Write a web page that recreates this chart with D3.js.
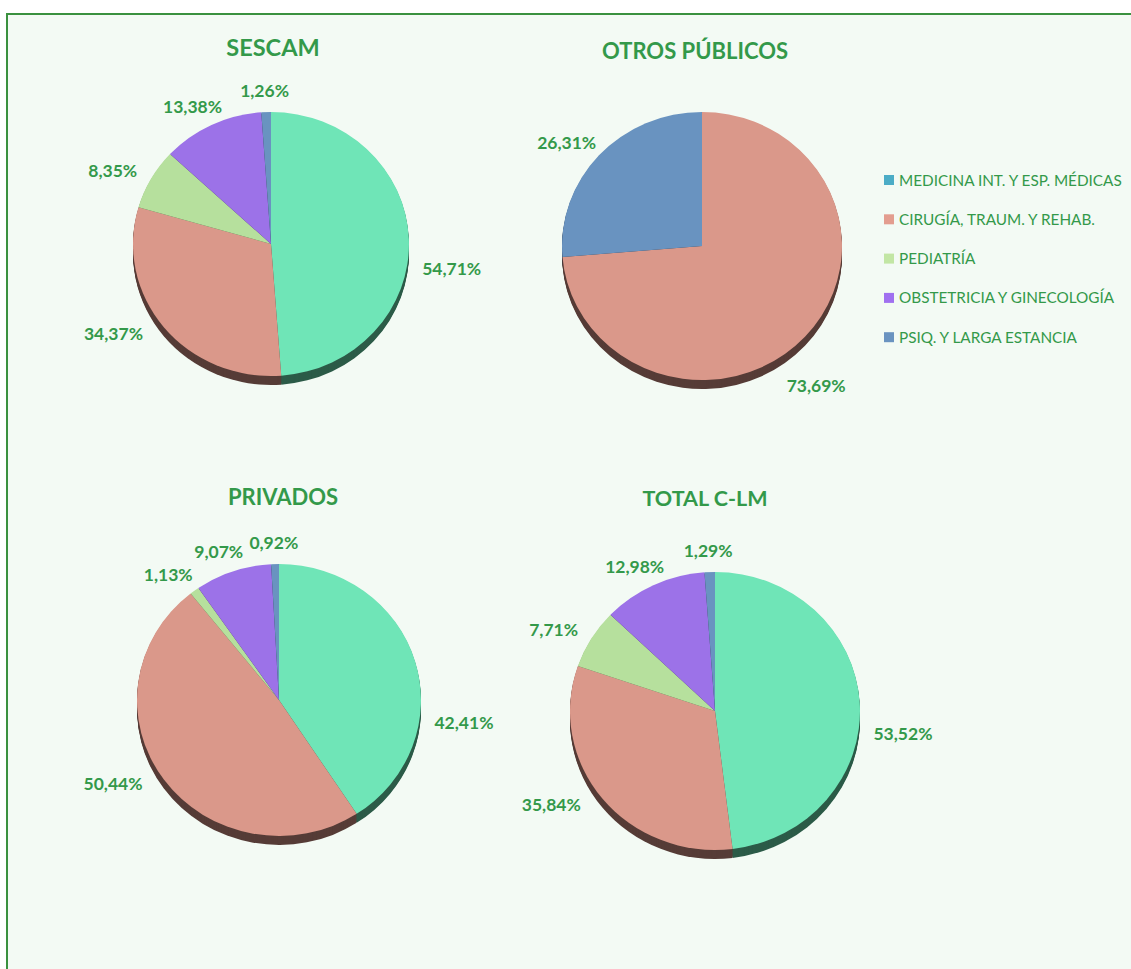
<!DOCTYPE html>
<html>
<head>
<meta charset="utf-8">
<script src="https://cdn.jsdelivr.net/npm/d3@7"></script>
<style>
  html, body { margin: 0; padding: 0; background: #ffffff; }
  svg { display: block; }
</style>
</head>
<body>
<div id="chart"></div>
<script>
// Distribución por servicio - 4 tartas 3D
(function() {
  'use strict';

  var categories = ['MEDICINA INT. Y ESP. MÉDICAS', 'CIRUGÍA, TRAUM. Y REHAB.', 'PEDIATRÍA',
    'OBSTETRICIA Y GINECOLOGÍA', 'PSIQ. Y LARGA ESTANCIA'];
  var titles = ['SESCAM', 'OTROS PÚBLICOS', 'PRIVADOS', 'TOTAL C-LM'];
  var sescam = [54.71, 34.37, 8.35, 13.38, 1.26];
  var otrosPublicos = [0, 73.69, 0, 0, 26.31];
  var privados = [42.41, 50.44, 1.13, 9.07, 0.92];
  var totalClm = [53.52, 35.84, 7.71, 12.98, 1.29];
  var series = [sescam, otrosPublicos, privados, totalClm];

  var sliceColors = ['#6fe5b7', '#da988a', '#b6e09d', '#9c72e8', '#6993c0'];
  var legendColors = ['#4bacc6', '#e39d8f', '#c2e6a4', '#a070f0', '#6a93c0'];
  var green = '#33994a';

  // layout of each pie (centre, radii, depth of the 3D edge, title)
  var layout = [
    { cx: 271, cy: 244, rx: 138, ry: 132, depth: 9, tx: 273, ty: 56, tsize: 23.5 },
    { cx: 702, cy: 246, rx: 140, ry: 134, depth: 9, tx: 695, ty: 59, tsize: 22 },
    { cx: 279, cy: 700, rx: 142, ry: 136, depth: 9, tx: 283, ty: 505, tsize: 22 },
    { cx: 715, cy: 711, rx: 145, ry: 139, depth: 9, tx: 705, ty: 506, tsize: 21.5 }
  ];

  var width = 1131, height = 969;
  var svg = d3.select('#chart').append('svg').attr('width', width).attr('height', height);

  svg.append('rect').attr('x', 7).attr('y', 14).attr('width', width + 20).attr('height', height + 20)
    .attr('fill', '#f3faf4').attr('stroke', '#3a913f').attr('stroke-width', 2);

  var pie = d3.pie().sort(null).value(function(d) { return d; });
  var fmt = function(v) { return v.toFixed(2).replace('.', ',') + '%'; };

  // label angle: mid angle, big slices nudged clockwise, right-hand labels kept below the horizontal
  function labelAngle(d, total) {
    var m = (d.startAngle + d.endAngle) / 2;
    if (d.value / total > 0.3) {
      m += 9 * Math.PI / 180;
      if (m < Math.PI) m = Math.max(m, 96 * Math.PI / 180);
    }
    return m;
  }

  series.forEach(function(values, i) {
    var L = layout[i];
    var arcs = pie(values);
    var total = d3.sum(values);
    var shown = arcs.filter(function(a) { return a.value > 0; });
    var arc = d3.arc().innerRadius(0).outerRadius(L.rx);
    var sy = L.ry / L.rx;
    var g = svg.append('g');

    // 3D edge: stacked darker copies
    for (var k = L.depth; k >= 1; k--) {
      g.append('g').attr('transform', 'translate(' + L.cx + ',' + (L.cy + k) + ') scale(1,' + sy + ')')
        .selectAll('path').data(shown).enter().append('path')
        .attr('d', arc)
        .attr('fill', function(d) { return d3.color(sliceColors[d.index]).darker(2.6); });
    }

    g.append('g').attr('transform', 'translate(' + L.cx + ',' + L.cy + ') scale(1,' + sy + ')')
      .selectAll('path').data(shown).enter().append('path')
      .attr('d', arc)
      .attr('fill', function(d) { return sliceColors[d.index]; });

    svg.append('text').attr('x', L.tx).attr('y', L.ty).attr('text-anchor', 'middle')
      .attr('font-family', 'Lato, sans-serif').attr('font-weight', 'bold').attr('font-size', L.tsize + 'px')
      .attr('fill', green).text(titles[i]);

    // data labels outside the pie, pushed out by half their box (lower ones clear the 3D edge)
    var gap = 14, lw = 30, lh = 7;
    svg.append('g').selectAll('text').data(shown).enter()
      .append('text')
      .attr('x', function(d) {
        var m = labelAngle(d, total);
        return L.cx + Math.sin(m) * (L.rx + gap + lw);
      })
      .attr('y', function(d) {
        var m = labelAngle(d, total);
        var c = -Math.cos(m);
        return L.cy + c * (L.ry + gap + lh) + L.depth * (0.5 + 0.5 * c + 1.5 * Math.max(0, c));
      })
      .attr('dy', '0.36em').attr('text-anchor', 'middle')
      .attr('font-family', 'Lato, sans-serif').attr('font-weight', 'bold').attr('font-size', '17.5px')
      .attr('fill', green).text(function(d) { return fmt(d.value); });
  });

  // legend
  var legend = svg.append('g').selectAll('g').data(categories).enter().append('g')
    .attr('transform', function(d, i) { return 'translate(884,' + (180 + i * 39.3) + ')'; });
  legend.append('rect').attr('x', 0).attr('y', -5).attr('width', 10).attr('height', 10)
    .attr('fill', function(d, i) { return legendColors[i]; });
  legend.append('text').attr('x', 15).attr('dy', '0.36em')
    .attr('font-family', 'Lato, sans-serif').attr('font-size', '15.3px').attr('fill', green)
    .text(function(d) { return d; });
})();
</script>
</body>
</html>
